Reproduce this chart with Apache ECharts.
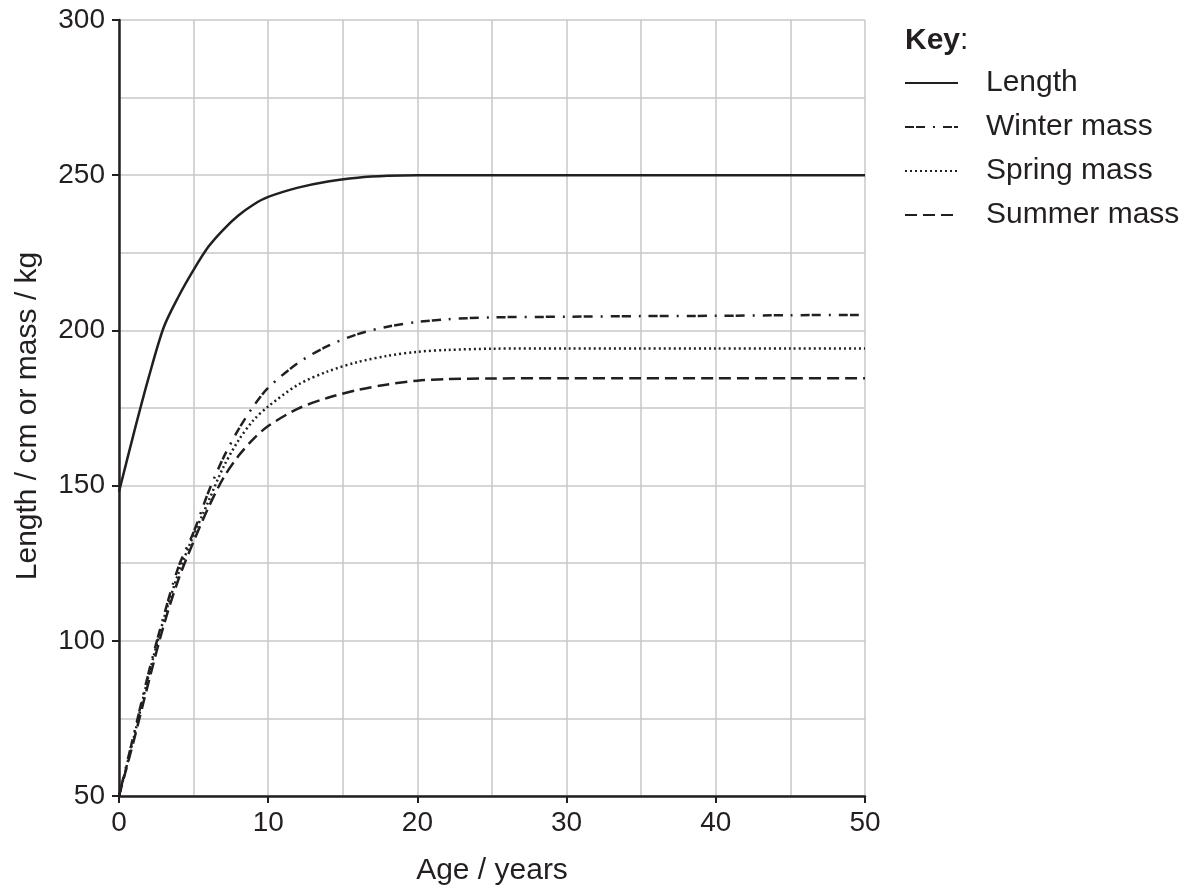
<!DOCTYPE html>
<html>
<head>
<meta charset="utf-8">
<script src="https://cdn.jsdelivr.net/npm/echarts@6/dist/echarts.min.js"></script>
<style>
  html, body { margin: 0; padding: 0; background: #fff; }
  #chart { width: 1184px; height: 891px; }
</style>
</head>
<body>
<div id="chart"></div>
<script>
const ages = [0, 1, 2, 3, 4, 5, 6, 7, 8, 9, 10, 12, 14, 16, 18, 20, 22, 25, 30, 35, 40, 45, 50];
const lengthCm = [148, 167, 185, 201, 211, 219.5, 227, 232.5, 237, 240.5, 243, 246, 248, 249.2, 249.8, 250, 250, 250, 250, 250, 250, 250, 250];
const winterMass = [50, 70, 90, 108, 124, 135, 148, 159, 168, 175.5, 181.5, 189.5, 195, 198.8, 201.2, 202.7, 203.6, 204.2, 204.4, 204.6, 204.7, 204.9, 205];
const springMass = [50, 69, 89, 107, 122, 134, 145, 156, 164.5, 171, 175.5, 182.5, 186.8, 189.8, 191.8, 193.1, 193.7, 194.1, 194.2, 194.2, 194.2, 194.2, 194.2];
const summerMass = [50, 68, 87, 105, 120, 132, 143, 152.5, 159.5, 165, 169.2, 174.8, 178.3, 180.8, 182.6, 183.8, 184.3, 184.5, 184.6, 184.6, 184.6, 184.6, 184.6];

const ink = "#231f20";
const font = "Liberation Sans, Arial, sans-serif";
const tickSize = 28;
const textSize = 30;

function pairs(values) {
  return ages.map((a, i) => [a, values[i]]);
}

function lineSeries(name, values, dash) {
  return {
    name,
    type: "line",
    data: pairs(values),
    smooth: 0.3,
    symbol: "none",
    lineStyle: { color: ink, width: 2.5, type: dash },
    itemStyle: { color: ink },
  };
}

const chart = echarts.init(document.getElementById("chart"), null, { renderer: "canvas" });

chart.setOption({
  backgroundColor: "#fff",
  animation: false,
  textStyle: { fontFamily: font, color: ink },
  grid: { left: 119, top: 20, right: 319, bottom: 94 },
  title: {
    text: "{b|Key}:",
    left: 900,
    top: 21,
    textStyle: {
      fontFamily: font,
      fontSize: textSize,
      fontWeight: "normal",
      color: ink,
      rich: { b: { fontFamily: font, fontSize: textSize, fontWeight: "bold", color: ink } },
    },
  },
  legend: {
    orient: "vertical",
    left: 899,
    top: 63,
    itemWidth: 53,
    itemHeight: 14,
    itemGap: 14,
    selectedMode: false,
    itemStyle: { opacity: 0 },
    textStyle: { fontFamily: font, fontSize: textSize, color: ink, padding: [0, 0, 0, 23] },
    data: ["Length", "Winter mass", "Spring mass", "Summer mass"],
  },
  xAxis: {
    type: "value",
    min: 0,
    max: 50,
    interval: 10,
    name: "Age / years",
    nameLocation: "middle",
    nameGap: 60,
    nameTextStyle: { fontFamily: font, fontSize: textSize, color: ink },
    axisLine: { onZero: false, lineStyle: { color: ink, width: 2.5 } },
    axisTick: { show: true, length: 7, lineStyle: { color: ink, width: 2 } },
    axisLabel: { fontFamily: font, fontSize: tickSize, color: ink, margin: 13 },
    splitLine: { show: true, lineStyle: { color: "#c8c8c8", width: 1.5 } },
    minorTick: { show: false, splitNumber: 2 },
    minorSplitLine: { show: true, lineStyle: { color: "#c8c8c8", width: 1.5 } },
  },
  yAxis: {
    type: "value",
    min: 50,
    max: 300,
    interval: 50,
    name: "Length / cm or mass / kg",
    nameLocation: "middle",
    nameGap: 76,
    nameTextStyle: { fontFamily: font, fontSize: textSize, color: ink, padding: [0, 16, 0, 0] },
    axisLine: { show: true, lineStyle: { color: ink, width: 2.5 } },
    axisTick: { show: true, length: 7, lineStyle: { color: ink, width: 2 } },
    axisLabel: { fontFamily: font, fontSize: tickSize, color: ink, margin: 14 },
    splitLine: { show: true, lineStyle: { color: "#c8c8c8", width: 1.5 } },
    minorTick: { show: false, splitNumber: 2 },
    minorSplitLine: { show: true, lineStyle: { color: "#c8c8c8", width: 1.5 } },
  },
  series: [
    lineSeries("Length", lengthCm, "solid"),
    lineSeries("Winter mass", winterMass, [9, 2, 9, 8, 2, 8]),
    lineSeries("Spring mass", springMass, [2, 3]),
    lineSeries("Summer mass", summerMass, [12, 6]),
  ],
});
</script>
</body>
</html>
